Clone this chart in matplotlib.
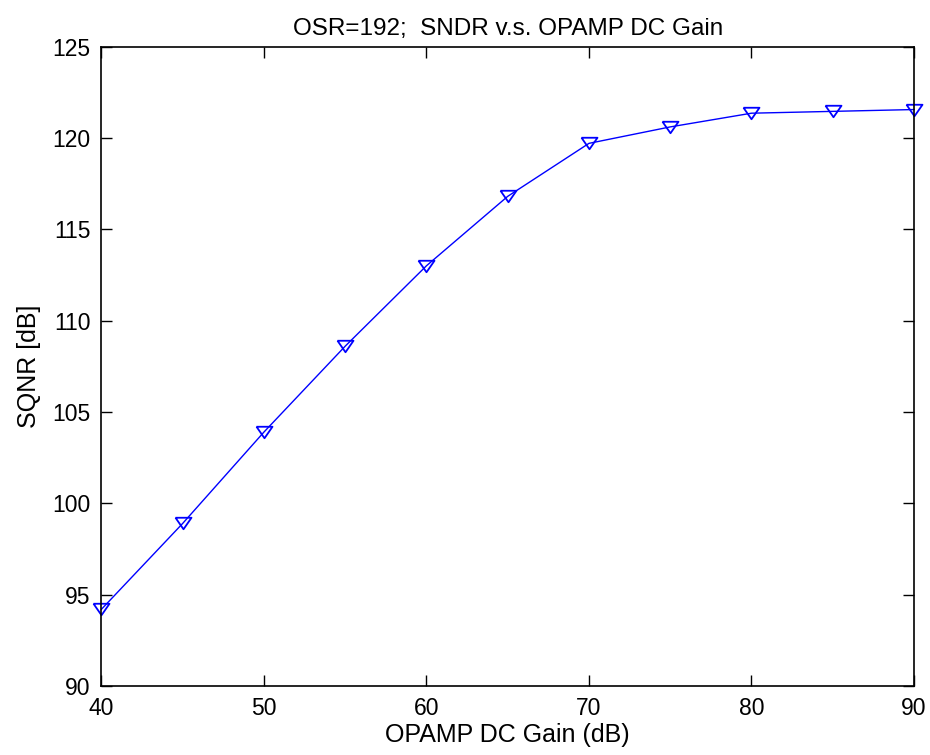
import matplotlib
matplotlib.use('Agg')
import matplotlib.pyplot as plt

# OPAMP DC gain sweep, OSR=192
gain_db = [40, 45, 50, 55, 60, 65, 70, 75, 80, 85, 90]
sqnr_db = [94.2, 98.9, 103.9, 108.6, 113.0, 116.8, 119.7, 120.6, 121.35, 121.45, 121.55]

plt.rcParams['font.family'] = ['Liberation Sans', 'DejaVu Sans']

fig = plt.figure(figsize=(9.3, 7.55), dpi=100)
ax = fig.add_axes([0.1091, 0.0914, 0.8737, 0.847])

# flat downward triangle like matlab's 'v'
tri = [(-1, 0.72), (1, 0.72), (0, -0.72), (-1, 0.72)]
ax.plot(gain_db, sqnr_db, color='#0000ff', lw=1.0, marker=tri, ms=11.5,
        mfc='none', mec='#0000ff', mew=1.3, clip_on=False)

ax.set_xlim(40, 90)
ax.set_ylim(90, 125)
ax.set_xticks(range(40, 91, 10))
ax.set_yticks(range(90, 126, 5))
ax.tick_params(direction='in', length=8, width=1, labelsize=16.5,
               top=True, right=True, pad=8)
for s in ax.spines.values():
    s.set_linewidth(1.2)

ax.set_xlabel('OPAMP DC Gain (dB)', fontsize=18, labelpad=2)
ax.set_ylabel('SQNR [dB]', fontsize=18, labelpad=8)
ax.set_title('OSR=192;  SNDR v.s. OPAMP DC Gain', fontsize=17.5, pad=8)

fig.savefig('out.png', dpi=100)
